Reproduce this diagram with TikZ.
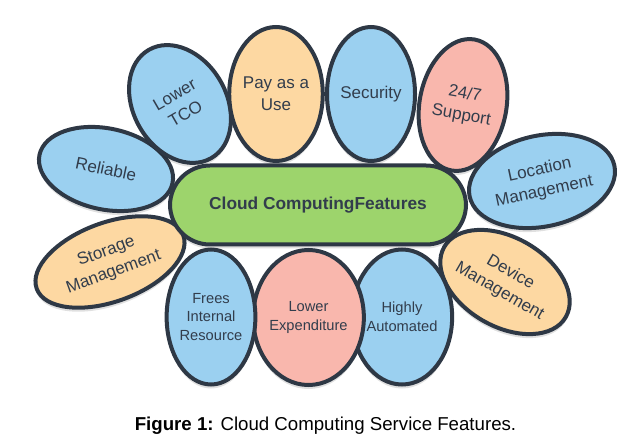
\documentclass[tikz,border=0pt]{standalone}
\usepackage{fontspec}
\setmainfont{Liberation Sans}
\usetikzlibrary{shapes.geometric,shadows}
\definecolor{Edge}{HTML}{2E3845}
\definecolor{Ink}{HTML}{323D4C}
\definecolor{Sky}{HTML}{9BD0F0}
\definecolor{Peach}{HTML}{FDD8A2}
\definecolor{Salmon}{HTML}{F9B7AD}
\definecolor{Leaf}{HTML}{9DD46C}
\newcommand{\px}{0.75pt}
% one feature bubble: name, x, y, rotation, width, height, extra style, text
\newcommand{\Feature}[8]{%
  \node[feat,#7,rotate=#4,minimum width=#5*\px,minimum height=#6*\px] (#1) at (#2,#3) {#8};%
}

\begin{document}
\begin{tikzpicture}[x=0.75pt,y=-0.75pt,
  feat/.style={ellipse,draw=Edge,line width=3pt,inner sep=0pt,align=center,text=Ink,
    font=\fontsize{12.75}{16.3}\selectfont,
    drop shadow={shadow xshift=0pt,shadow yshift=-3pt,opacity=0.12,fill=black}},
  smalltext/.style={font=\fontsize{11}{14}\selectfont}]
\useasboundingbox (0,0) rectangle (641,448);
\Feature{reliable}{106}{169}{-12}{136}{81}{fill=Sky}{Reliable}
\Feature{storage}{110}{262}{20}{156}{79}{fill=Peach}{Storage\\Management}
\Feature{lowertco}{180}{104}{30}{93}{125}{fill=Sky}{Lower\\TCO}
\Feature{payuse}{276}{94}{0}{88}{134}{fill=Peach}{Pay as a\\Use}
\Feature{security}{371}{94}{0}{88}{134}{fill=Sky}{Security}
\Feature{support}{463}{105}{-10}{87}{133}{fill=Salmon}{24/7\\Support}
\Feature{location}{542}{181}{12}{148}{91}{fill=Sky}{Location\\Management}
\Feature{device}{505}{282}{-30}{131}{89}{fill=Peach}{Device\\Management}
\Feature{automated}{402}{317}{0}{86}{135}{fill=Sky,smalltext}{Highly\\Automated}
\Feature{expenditure}{308.5}{317.5}{0}{93}{135}{fill=Salmon,smalltext}{Lower\\Expenditure}
\Feature{frees}{211}{317}{0}{88}{135}{fill=Sky,smalltext}{Frees\\Internal\\Resource}
% centre
\node[draw=Edge,fill=Leaf,line width=3pt,rounded corners=30pt,minimum width=296*\px,
  minimum height=79*\px,text=Ink,font=\fontsize{13}{16}\selectfont\bfseries,
  drop shadow={shadow xshift=0pt,shadow yshift=-3pt,opacity=0.12,fill=black}]
  (cloud) at (318,205) {Cloud ComputingFeatures};
% caption
\node[anchor=base,font=\fontsize{14}{17}\selectfont] (caption) at (325.5,430)
  {\textbf{Figure 1:} Cloud Computing Service Features.};
\end{tikzpicture}
\end{document}
